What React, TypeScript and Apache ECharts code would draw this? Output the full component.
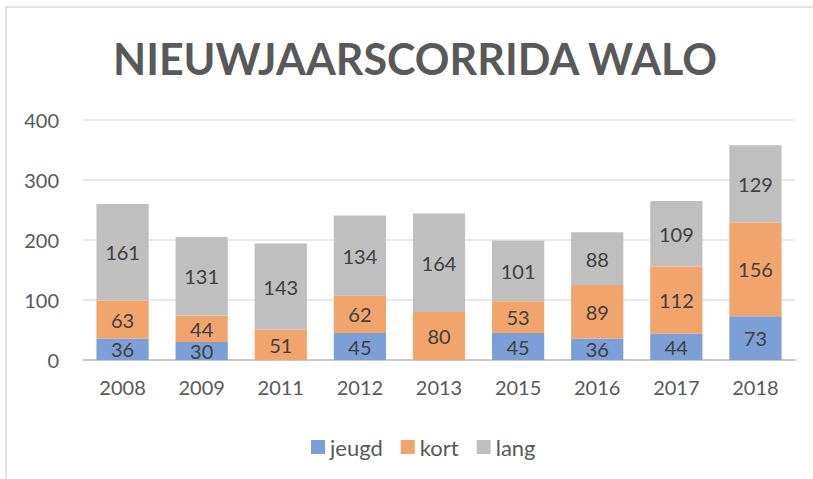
import React, { useEffect, useRef } from "react";
import * as echarts from "echarts";

const categories = ["2008", "2009", "2011", "2012", "2013", "2015", "2016", "2017", "2018"];
const jeugd = [36, 30, null, 45, null, 45, 36, 44, 73];
const kort = [63, 44, 51, 62, 80, 53, 89, 112, 156];
const lang = [161, 131, 143, 134, 164, 101, 88, 109, 129];
const titleText = "NIEUWJAARSCORRIDA WALO";

const FONT = "Lato, 'Open Sans', sans-serif";

export default function App() {
  const ref = useRef<HTMLDivElement>(null);
  useEffect(() => {
    if (!ref.current) return;
    const chart = echarts.init(ref.current, null, { renderer: "svg" });
    const label = {
      show: true,
      position: "inside",
      color: "#404040",
      fontSize: 20,
      fontFamily: FONT,
    };
    const mk = (name: string, data: (number | null)[], color: string) => ({
      name,
      type: "bar",
      stack: "total",
      data: data.map((v) => (v === null ? "-" : v)),
      barCategoryGap: "34%",
      itemStyle: { color },
      label,
    });
    chart.setOption({
      animation: false,
      textStyle: { fontFamily: FONT },
      graphic: [
        {
          type: "rect",
          shape: { x: 6, y: 7, width: 1000, height: 800 },
          style: { fill: "none", stroke: "#d9d9d9", lineWidth: 1.5 },
          z: -10,
        },
        {
          type: "text",
          x: 415,
          y: 58,
          style: {
            text: titleText,
            fontFamily: FONT,
            fontWeight: "bold",
            fontSize: 43,
            fill: "#595959",
            textAlign: "center",
            textVerticalAlign: "middle",
          },
        },
      ],
      grid: { left: 83, right: 18, top: 120, bottom: 119, containLabel: false },
      legend: {
        left: 306,
        top: 431,
        icon: "rect",
        itemWidth: 14,
        itemHeight: 14,
        itemGap: 18,
        textStyle: { fontSize: 22, color: "#595959", fontFamily: FONT },
        data: ["jeugd", "kort", "lang"],
      },
      xAxis: {
        type: "category",
        data: categories,
        axisTick: { show: false },
        axisLine: { lineStyle: { color: "#bfbfbf", width: 1.5 } },
        axisLabel: { color: "#595959", fontSize: 20, margin: 17, fontFamily: FONT },
      },
      yAxis: {
        type: "value",
        min: 0,
        max: 400,
        interval: 100,
        axisLabel: { color: "#595959", fontSize: 20, margin: 24, fontFamily: FONT },
        splitLine: { lineStyle: { color: "#e3e3e3", width: 1.5 } },
        axisLine: { show: false },
        axisTick: { show: false },
      },
      series: [
        mk("jeugd", jeugd, "#7b9fd6"),
        mk("kort", kort, "#f1a46c"),
        mk("lang", lang, "#bfbfbf"),
      ],
    });
    return () => chart.dispose();
  }, []);
  return (
    <div
      ref={ref}
      style={{ position: "fixed", left: 0, top: 0, width: 813, height: 479, background: "#fff" }}
    />
  );
}
